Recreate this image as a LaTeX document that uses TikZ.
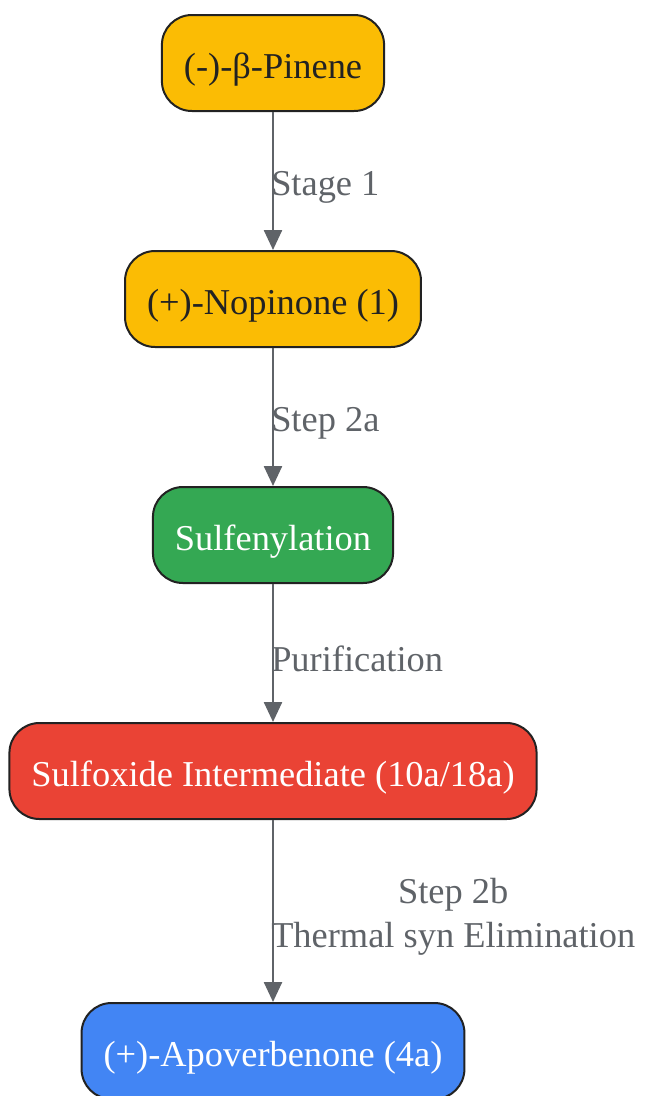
\documentclass[tikz,border=0pt]{standalone}
\usepackage{fontspec}
\setmainfont{Liberation Serif}
\usetikzlibrary{arrows.meta}
\definecolor{pineyellow}{HTML}{FBBC04}
\definecolor{sulfgreen}{HTML}{34A853}
\definecolor{oxidered}{HTML}{EA4335}
\definecolor{apoblue}{HTML}{4285F4}
\definecolor{edgegray}{HTML}{5F6368}
\definecolor{textdark}{HTML}{222222}
\tikzset{
  stepbox/.style={draw=textdark, line width=2pt, rounded corners=30pt,
    minimum height=96pt, inner xsep=22pt, text height=30pt, text depth=0pt,
    font=\fontsize{36.4}{42}\selectfont},
  edgelabel/.style={text=edgegray, anchor=west, inner xsep=0pt, xshift=-3pt,
    yshift=-6pt, align=center, font=\fontsize{36.4}{44}\selectfont}
}
\begin{document}
\begin{tikzpicture}[x=1pt,y=-1pt]
      \useasboundingbox (0,0) rectangle (647,1096);
      \draw
        (273,63) node[stepbox, fill=pineyellow, text=textdark] (pinene){(-)-β-Pinene}
        (273,299) node[stepbox, fill=pineyellow, text=textdark] (nopinone){(+)-Nopinone (1)}
        (273,535) node[stepbox, fill=sulfgreen, text=white] (sulfenyl){Sulfenylation}
        (273,771) node[stepbox, fill=oxidered, text=white] (sulfoxide){Sulfoxide Intermediate (10a/18a)}
        (273,1051) node[stepbox, fill=apoblue, text=white] (apoverb){(+)-Apoverbenone (4a)};
      \begin{scope}[draw=edgegray, line width=2.5pt, -{Triangle[length=20pt,width=18pt]}]
        \draw (pinene) to node[edgelabel] (stage1){Stage 1} (nopinone);
        \draw (nopinone) to node[edgelabel] (step2a){Step 2a} (sulfenyl);
        \draw (sulfenyl) to node[edgelabel] (purif){Purification} (sulfoxide);
        \draw (sulfoxide) to node[edgelabel] (step2b){Step 2b\\Thermal syn Elimination} (apoverb);
      \end{scope}
    \end{tikzpicture}
\end{document}
